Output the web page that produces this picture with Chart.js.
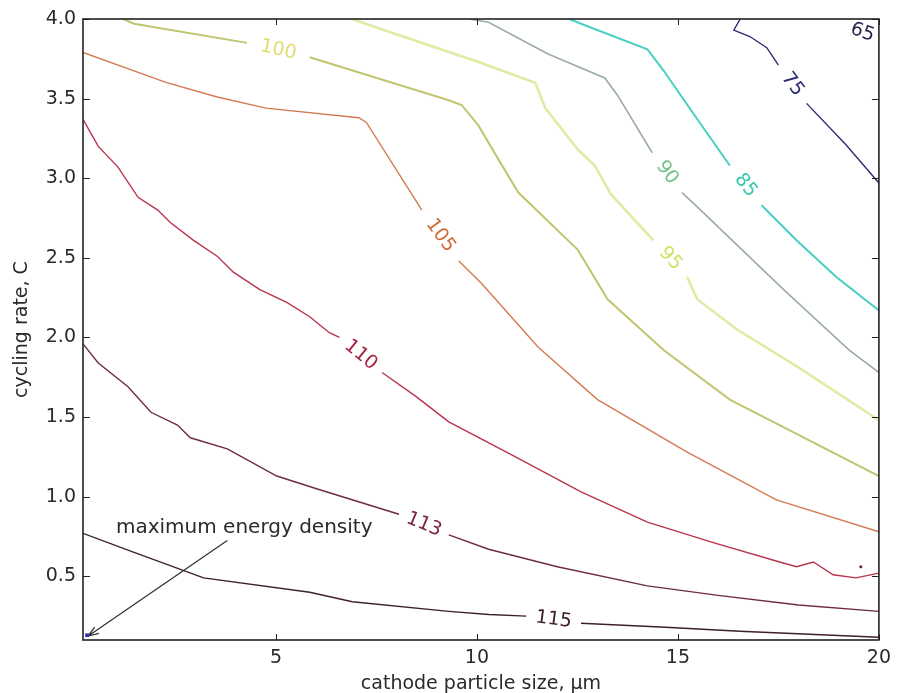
<!DOCTYPE html>
<html>
<head>
<meta charset="utf-8">
<script src="https://cdn.jsdelivr.net/npm/chart.js@4.4.0/dist/chart.umd.min.js"></script>
<style>
  html, body { margin: 0; padding: 0; background: #fff; }
</style>
</head>
<body>
<canvas id="chart" width="898" height="693"></canvas>
<script>
// contour lines, one pair of arrays per level
// a null marks the gap where the inline label sits
const c115x = [0.2, 1.47, 3.2, 5.84, 6.9, 9.3, 10.3, 11.23, null, 12.59, 14.69, 16.54, 20];
const c115y = [0.77, 0.65, 0.49, 0.40, 0.34, 0.28, 0.26, 0.25, null, 0.205, 0.18, 0.155, 0.117];

const c113x = [0.2, 0.58, 1.32, 1.89, 2.55, 2.87, 3.79, 5.02, 6.01, 8.06, null, 9.3, 10.29, 12.0, 14.24, 16.0, 18.0, 20];
const c113y = [1.96, 1.84, 1.69, 1.53, 1.45, 1.37, 1.30, 1.13, 1.05, 0.89, null, 0.76, 0.67, 0.56, 0.44, 0.38, 0.32, 0.28];

const c110x = [0.2, 0.58, 1.07, 1.57, 2.06, 2.38, 2.95, 3.54, 3.94, 4.6, 5.27, 5.84, 6.33, 6.58, null,
  7.64, 8.48, 9.3, 10.96, 12.59, 14.24, 15.9, 17.53, 17.95, 18.37, 18.86, 19.43, 20];
const c110y = [3.37, 3.2, 3.07, 2.88, 2.80, 2.72, 2.61, 2.51, 2.41, 2.30, 2.22, 2.13, 2.03, 2.0, null,
  1.78, 1.63, 1.47, 1.25, 1.03, 0.84, 0.71, 0.59, 0.56, 0.59, 0.51, 0.49, 0.52];

const c105x = [0.2, 2.28, 3.54, 4.75, 7.06, 7.25, 8.63, null, 9.55, 10.11, 11.52, 13.0, 15.23, 17.45, 20];
const c105y = [3.79, 3.6, 3.51, 3.44, 3.38, 3.35, 2.8, null, 2.48, 2.34, 1.94, 1.61, 1.28, 0.98, 0.78];

const c100x = [1.2, 1.47, 4.28, null, 5.84, 9.3, 9.62, 10.04, 10.53, 11.03, 12.51, 13.25, 14.65, 16.29, 20];
const c100y = [4.0, 3.97, 3.85, null, 3.76, 3.49, 3.46, 3.33, 3.12, 2.91, 2.55, 2.24, 1.92, 1.61, 1.13];

const c95x = [6.9, 7.57, 10.04, 11.45, 11.7, 12.51, 12.93, 13.33, 14.39, null, 15.23, 15.48, 16.47, 17.95, 20];
const c95y = [4.0, 3.94, 3.73, 3.60, 3.44, 3.18, 3.08, 2.90, 2.61, null, 2.38, 2.24, 2.05, 1.82, 1.48];

const c90x = [9.8, 10.29, 11.77, 13.18, 13.5, 14.36, null, 15.1, 15.48, 17.63, 19.26, 20];
const c90y = [4.0, 3.98, 3.78, 3.63, 3.52, 3.16, null, 2.91, 2.82, 2.30, 1.92, 1.78];

const c85x = [12.3, 12.59, 14.24, 14.66, 15.4, 16.29, null, 17.08, 17.95, 18.94, 20];
const c85y = [4.0, 3.97, 3.81, 3.67, 3.4, 3.08, null, 2.83, 2.61, 2.38, 2.17];

const c75x = [16.55, 16.39, 16.79, 17.21, 17.5, null, 18.2, 19.18, 20];
const c75y = [4.0, 3.93, 3.89, 3.82, 3.71, null, 3.47, 3.21, 2.97];

const c65x = [19.18, null, 20];
const c65y = [3.95, null, 3.88];

// the tiny closed contour near the right edge
const isletX = [19.55];
const isletY = [0.56];

const levels = [115, 113, 110, 105, 100, 95, 90, 85, 75, 65];
const levelX = [c115x, c113x, c110x, c105x, c100x, c95x, c90x, c85x, c75x, c65x];
const levelY = [c115y, c113y, c110y, c105y, c100y, c95y, c90y, c85y, c75y, c65y];

const xTicks = [5, 10, 15, 20];
const yTicks = [0.5, 1.0, 1.5, 2.0, 2.5, 3.0, 3.5, 4.0];

// annotation: maximum point and the arrow pointing at it
const maxX = [0.3];
const maxY = [0.13];
const noteText = 'maximum energy density';
const noteX = 1.02, noteY = 0.775;
const arrowFrom = [3.79, 0.725];
const arrowTo = [0.33, 0.125];

const lineColors = ['#3e2028', '#6e2c3e', '#b8344c', '#d47a52', '#c2c470', '#e2eaa4',
  '#9aae9e', '#48cfc2', '#2c2c72', '#1e1e5e'];
const labelColors = ['#3e2028', '#7a2848', '#a82040', '#d06a3a', '#e2dc70', '#d4e060',
  '#72c08e', '#34c8aa', '#2c2c72', '#26264e'];
const lineWidths = [1.4, 1.4, 1.4, 1.4, 2.0, 2.6, 1.6, 2.0, 1.4, 1.4];

const FONT = '"DejaVu Sans", sans-serif';

function toPoints(xs, ys) {
  return xs.map(function (x, i) { return { x: x, y: ys[i] }; });
}

const datasets = levels.map(function (lv, k) {
  return {
    label: String(lv),
    data: toPoints(levelX[k], levelY[k]),
    showLine: true,
    borderColor: lineColors[k],
    borderWidth: lineWidths[k],
    pointRadius: 0,
    spanGaps: false,
    tension: 0
  };
});
datasets.push({
  label: 'islet',
  data: toPoints(isletX, isletY),
  pointRadius: 1.6,
  pointBackgroundColor: '#6e2c3e',
  pointBorderWidth: 0
});
datasets.push({
  label: 'max',
  data: toPoints(maxX, maxY),
  pointStyle: 'rect',
  pointRadius: 2.6,
  pointBackgroundColor: '#2a2ad0',
  pointBorderWidth: 0
});

// inline contour labels, frame, inward ticks and the arrow note
const extras = {
  id: 'extras',
  afterDatasetsDraw(chart) {
    const ctx = chart.ctx;
    const xs = chart.scales.x, ys = chart.scales.y;
    const area = chart.chartArea;

    ctx.save();
    ctx.font = '19px ' + FONT;
    ctx.textAlign = 'center';
    ctx.textBaseline = 'middle';
    levels.forEach(function (lv, k) {
      const px = levelX[k], py = levelY[k];
      const gap = px.indexOf(null);
      if (gap < 1) return;
      const x0 = xs.getPixelForValue(px[gap - 1]), y0 = ys.getPixelForValue(py[gap - 1]);
      const x1 = xs.getPixelForValue(px[gap + 1]), y1 = ys.getPixelForValue(py[gap + 1]);
      let a = Math.atan2(y1 - y0, x1 - x0);
      if (a > Math.PI / 2) a -= Math.PI;
      if (a < -Math.PI / 2) a += Math.PI;
      ctx.save();
      ctx.translate((x0 + x1) / 2, (y0 + y1) / 2);
      ctx.rotate(a);
      ctx.fillStyle = labelColors[k];
      ctx.fillText(String(lv), 0, 0);
      ctx.restore();
    });
    ctx.restore();

    // note + arrow
    ctx.save();
    ctx.font = '20px ' + FONT;
    ctx.fillStyle = '#2a2a2a';
    ctx.textAlign = 'left';
    ctx.textBaseline = 'alphabetic';
    ctx.fillText(noteText, xs.getPixelForValue(noteX), ys.getPixelForValue(noteY));
    const ax0 = xs.getPixelForValue(arrowFrom[0]), ay0 = ys.getPixelForValue(arrowFrom[1]);
    const ax1 = xs.getPixelForValue(arrowTo[0]), ay1 = ys.getPixelForValue(arrowTo[1]);
    ctx.strokeStyle = '#333';
    ctx.lineWidth = 1.3;
    ctx.beginPath();
    ctx.moveTo(ax0, ay0);
    ctx.lineTo(ax1, ay1);
    const ang = Math.atan2(ay0 - ay1, ax0 - ax1);
    const head = 11;
    ctx.moveTo(ax1 + head * Math.cos(ang - 0.35), ay1 + head * Math.sin(ang - 0.35));
    ctx.lineTo(ax1, ay1);
    ctx.lineTo(ax1 + head * Math.cos(ang + 0.35), ay1 + head * Math.sin(ang + 0.35));
    ctx.stroke();
    ctx.restore();

    // frame and inward ticks (matplotlib style)
    ctx.save();
    ctx.strokeStyle = '#222';
    ctx.lineWidth = 1;
    ctx.beginPath();
    xTicks.forEach(function (v) {
      const p = Math.round(xs.getPixelForValue(v)) + 0.5;
      ctx.moveTo(p, area.bottom); ctx.lineTo(p, area.bottom - 6);
      ctx.moveTo(p, area.top); ctx.lineTo(p, area.top + 6);
    });
    yTicks.forEach(function (v) {
      const p = Math.round(ys.getPixelForValue(v)) + 0.5;
      ctx.moveTo(area.left, p); ctx.lineTo(area.left + 7, p);
      ctx.moveTo(area.right, p); ctx.lineTo(area.right - 7, p);
    });
    ctx.stroke();
    ctx.lineWidth = 1.6;
    ctx.strokeRect(area.left, area.top, area.right - area.left, area.bottom - area.top);
    ctx.restore();
  }
};

new Chart(document.getElementById('chart'), {
  type: 'scatter',
  data: { datasets: datasets },
  options: {
    responsive: false,
    animation: false,
    devicePixelRatio: 1,
    layout: { padding: { top: 19, right: 15, left: 0, bottom: 0 } },
    plugins: { legend: { display: false }, tooltip: { enabled: false } },
    scales: {
      x: {
        type: 'linear',
        min: 0.2,
        max: 20,
        grid: { display: false, drawTicks: false },
        border: { display: false },
        afterBuildTicks: function (scale) { scale.ticks = xTicks.map(function (v) { return { value: v }; }); },
        afterFit: function (scale) { scale.height = 53; },
        ticks: { font: { family: FONT, size: 19 }, color: '#2a2a2a', padding: 7, maxRotation: 0,
          callback: function (v) { return String(v); } },
        title: { display: true, text: 'cathode particle size, μm', font: { family: FONT, size: 19 },
          color: '#2a2a2a', padding: { top: 0, bottom: -2 } }
      },
      y: {
        type: 'linear',
        min: 0.1,
        max: 4.0,
        grid: { display: false, drawTicks: false },
        border: { display: false },
        afterBuildTicks: function (scale) { scale.ticks = yTicks.map(function (v) { return { value: v }; }); },
        afterFit: function (scale) { scale.width = 83; },
        ticks: { font: { family: FONT, size: 19 }, color: '#2a2a2a', padding: 7,
          callback: function (v) { return Number(v).toFixed(1); } },
        title: { display: true, text: 'cycling rate, C', font: { family: FONT, size: 19 },
          color: '#2a2a2a', padding: { top: 11, bottom: 0 } }
      }
    }
  },
  plugins: [extras]
});
</script>
</body>
</html>
